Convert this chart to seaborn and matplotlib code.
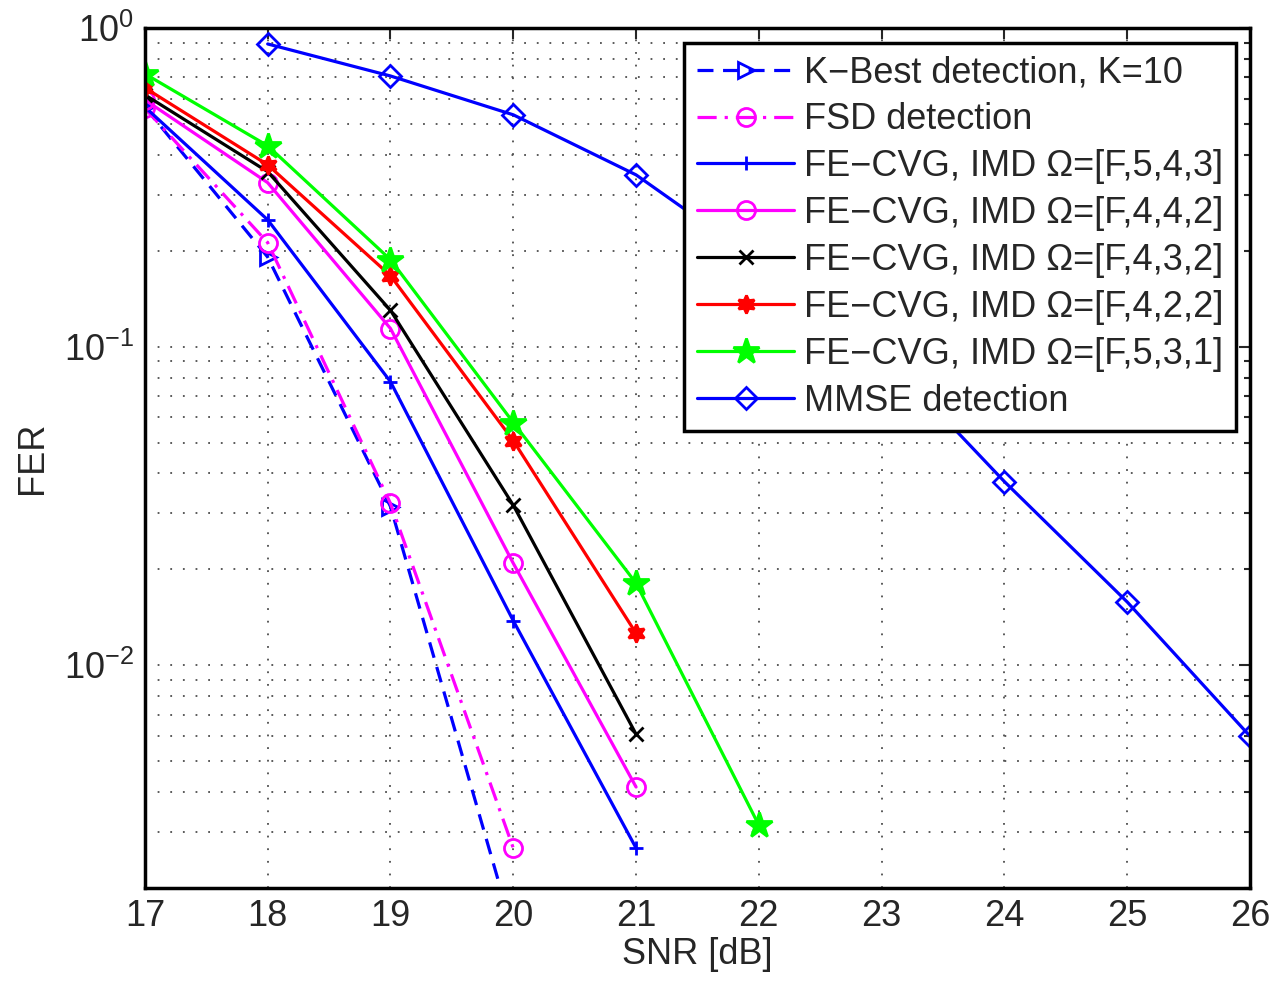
import numpy as np
import pandas as pd
import seaborn as sns
import matplotlib.pyplot as plt

# SNR grid and FER values
snr_kbest = [17, 18, 19, 20]
fer_kbest = [0.565, 0.191, 0.0315, 0.00145]

snr_fsd = [17, 18, 19, 20]
fer_fsd = [0.56, 0.212, 0.0322, 0.00267]

snr_5431 = [17, 18, 19, 20, 21]
fer_5431 = [0.565, 0.25, 0.0776, 0.0138, 0.00267]

snr_4442 = [17, 18, 19, 20, 21]
fer_4442 = [0.595, 0.327, 0.114, 0.0209, 0.00415]

snr_4432 = [17, 18, 19, 20, 21]
fer_4432 = [0.617, 0.354, 0.130, 0.0318, 0.00608]

snr_4422 = [17, 18, 19, 20, 21]
fer_4422 = [0.649, 0.372, 0.167, 0.0507, 0.0126]

snr_5531 = [17, 18, 19, 20, 21, 22]
fer_5531 = [0.718, 0.427, 0.1875, 0.0578, 0.0181, 0.00315]

snr_mmse = [18, 19, 20, 21, 22, 23, 24, 25, 26]
fer_mmse = [0.891, 0.707, 0.534, 0.346, 0.185, 0.096, 0.0377, 0.0158, 0.00599]

labels = ["K\u2212Best detection, K=10", "FSD detection",
          "FE\u2212CVG, IMD \u03a9=[F,5,4,3]", "FE\u2212CVG, IMD \u03a9=[F,4,4,2]",
          "FE\u2212CVG, IMD \u03a9=[F,4,3,2]", "FE\u2212CVG, IMD \u03a9=[F,4,2,2]",
          "FE\u2212CVG, IMD \u03a9=[F,5,3,1]", "MMSE detection"]

sns.set_style("white")
plt.rcParams['font.family'] = ['Liberation Sans', 'DejaVu Sans']
plt.rcParams['font.size'] = 26

fig = plt.figure(figsize=(12.71, 9.82), dpi=100)
ax = fig.add_axes([0.114, 0.0957, 0.8695, 0.8758])

blue = (0, 0, 1)
mag = (1, 0, 1)
series = [
    (snr_kbest, fer_kbest, blue, (0, (5, 3)), '>', 'none'),
    (snr_fsd, fer_fsd, mag, (0, (6, 2.5, 1, 2.5)), 'o', 'none'),
    (snr_5431, fer_5431, blue, '-', '+', 'none'),
    (snr_4442, fer_4442, mag, '-', 'o', 'none'),
    (snr_4432, fer_4432, 'black', '-', 'x', 'none'),
    (snr_4422, fer_4422, 'red', '-', (6, 1, 0), 'red'),
    (snr_5531, fer_5531, (0, 1, 0), '-', '*', (0, 1, 0)),
    (snr_mmse, fer_mmse, blue, '-', 'D', 'none'),
]

for (x, y, c, ls, mk, fc), lab in zip(series, labels):
    ms = 13
    if mk == 'D':
        ms = 11
    if mk == '*':
        ms = 19
    if mk in ('+', 'x'):
        ms = 10
    if mk == '>':
        ms = 12
    sns.lineplot(x=x, y=y, ax=ax, color=c, linestyle=ls, marker=mk,
                 markersize=ms, markerfacecolor=fc, markeredgecolor=c,
                 markeredgewidth=2, linewidth=2.3, label=lab)

ax.set_yscale('log')
ax.set_xlim(17, 26)
ax.set_ylim(2.0e-3, 1)
ax.set_xticks(range(17, 27))
ax.set_xlabel("SNR [dB]", labelpad=2)
ax.set_ylabel("FER", labelpad=10)

ax.grid(True, which='major', linestyle=(0, (1, 6)), color='0.3', linewidth=1.3)
ax.grid(True, which='minor', axis='y', linestyle=(0, (1, 6)), color='0.3', linewidth=1.3)
ax.tick_params(which='both', direction='in', top=True, right=True,
               length=8, width=1.5)
ax.tick_params(which='minor', length=4)
ax.tick_params(axis='both', labelsize=26, pad=8)
for sp in ax.spines.values():
    sp.set_linewidth(2.5)
    sp.set_color('black')

leg = ax.legend(loc='upper right', bbox_to_anchor=(0.987, 0.983),
                fontsize=26, frameon=True, fancybox=False,
                handlelength=2.7, labelspacing=0.33, borderpad=0.35,
                handletextpad=0.25, borderaxespad=0)
leg.get_frame().set_edgecolor('black')
leg.get_frame().set_linewidth(2.5)
leg.get_frame().set_alpha(1)

fig.savefig("out.png", dpi=100)
